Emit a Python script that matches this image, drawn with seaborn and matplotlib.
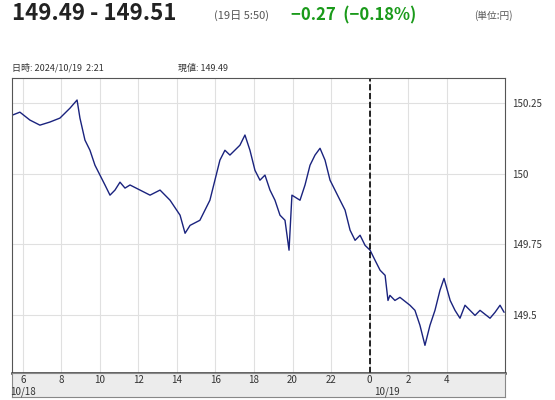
import numpy as np
import pandas as pd
import matplotlib
matplotlib.use('Agg')
import matplotlib.pyplot as plt
import seaborn as sns

# hours counted from 10/18 0:00, price in yen
hours = [5.43, 5.84, 6.36, 6.88, 7.40, 7.92, 8.44, 8.81, 8.96, 9.22, 9.48, 9.74,
         10.00, 10.26, 10.52, 10.78, 11.04, 11.30, 11.56, 12.08, 12.60, 13.12,
         13.64, 14.16, 14.42, 14.68, 15.19, 15.71, 15.97, 16.23, 16.49, 16.75,
         17.27, 17.53, 17.79, 18.05, 18.31, 18.57, 18.83, 19.09, 19.35, 19.61,
         19.82, 19.97, 20.39, 20.65, 20.91, 21.17, 21.43, 21.69, 21.95, 22.47,
         22.73, 22.99, 23.25, 23.51, 23.77, 24.03, 24.29, 24.55, 24.81, 24.96,
         25.06, 25.32, 25.58, 26.10, 26.36, 26.62, 26.88, 27.14, 27.40, 27.66,
         27.87, 28.19, 28.44, 28.70, 28.96, 29.22, 29.48, 29.74, 30.26, 30.52,
         30.78, 30.99]
prices = [150.207, 150.218, 150.190, 150.172, 150.183, 150.197, 150.232, 150.261,
          150.197, 150.119, 150.083, 150.030, 149.995, 149.960, 149.924, 149.942,
          149.970, 149.949, 149.960, 149.942, 149.924, 149.942, 149.906, 149.853,
          149.789, 149.817, 149.835, 149.906, 149.977, 150.048, 150.083, 150.066,
          150.101, 150.137, 150.083, 150.012, 149.977, 149.995, 149.942, 149.906,
          149.853, 149.835, 149.729, 149.924, 149.906, 149.960, 150.030, 150.066,
          150.090, 150.048, 149.977, 149.906, 149.871, 149.800, 149.764, 149.782,
          149.746, 149.729, 149.693, 149.658, 149.640, 149.551, 149.569, 149.551,
          149.562, 149.534, 149.516, 149.463, 149.392, 149.463, 149.516, 149.587,
          149.629, 149.551, 149.516, 149.488, 149.534, 149.516, 149.498, 149.516,
          149.488, 149.509, 149.534, 149.509]
xticks = [6, 8, 10, 12, 14, 16, 18, 20, 22, 24, 26, 28]
yticks = [149.5, 149.75, 150, 150.25]
ytick_labels = ['149.5', '149.75', '150', '150.25']

sns.set_style("white")
plt.rcParams['font.family'] = ['Noto Sans CJK JP', 'DejaVu Sans']

df = pd.DataFrame({'hour': hours, 'price': prices})

fig = plt.figure(figsize=(5.55, 4), dpi=100)
ax = fig.add_axes([0.0216, 0.0675, 0.8884, 0.7375])
sns.lineplot(data=df, x='hour', y='price', ax=ax, color='#1a237e', linewidth=1)
ax.axvline(24, color='black', linestyle='--', linewidth=1.2)
ax.set_xlim(5.43, 31.04)
ax.set_ylim(149.294, 150.339)
ax.set_xticks(xticks)
ax.set_yticks(yticks)
ax.set_yticklabels(ytick_labels)
ax.grid(True, color='#e0e0e0', linewidth=0.8)
ax.set_axisbelow(True)
ax.yaxis.tick_right()
ax.tick_params(axis='y', length=0, labelsize=7, pad=5, colors='#333333')
ax.tick_params(axis='x', length=0, labelbottom=False)
ax.set_xlabel('')
ax.set_ylabel('')
for s in ax.spines.values():
    s.set_color('#555555')
    s.set_linewidth(0.8)
ax.spines['bottom'].set_linewidth(1.8)
ax.spines['bottom'].set_color('#333333')

# gray time band
band = fig.add_axes([0.0216, 0.0075, 0.8884, 0.06])
band.set_facecolor('#ececec')
band.set_xlim(ax.get_xlim())
band.set_ylim(0, 1)
band.set_yticks([])
band.set_xticks([])
for s in band.spines.values():
    s.set_color('#888888')
    s.set_linewidth(0.8)
for h in xticks:
    band.text(h, 0.72, str(h % 24), ha='center', va='center', fontsize=7, color='#333333')
band.text(6, 0.2, '10/18', ha='center', va='center', fontsize=7, color='#333333')
band.text(24.9, 0.2, '10/19', ha='center', va='center', fontsize=7, color='#333333')

fig.text(0.022, 0.965, '149.49 - 149.51', fontsize=16, fontweight='bold', color='#222222', va='center')
fig.text(0.385, 0.96, '(19日 5:50)', fontsize=8, color='#555555', va='center')
fig.text(0.525, 0.962, '−0.27  (−0.18%)', fontsize=12, fontweight='bold', color='#1a9a1a', va='center')
fig.text(0.855, 0.96, '(単位:円)', fontsize=7, color='#555555', va='center')
fig.text(0.022, 0.83, '日時: 2024/10/19  2:21', fontsize=6.5, color='#333333', va='center')
fig.text(0.32, 0.83, '現値: 149.49', fontsize=6.5, color='#333333', va='center')

fig.savefig('out.png', dpi=100)
